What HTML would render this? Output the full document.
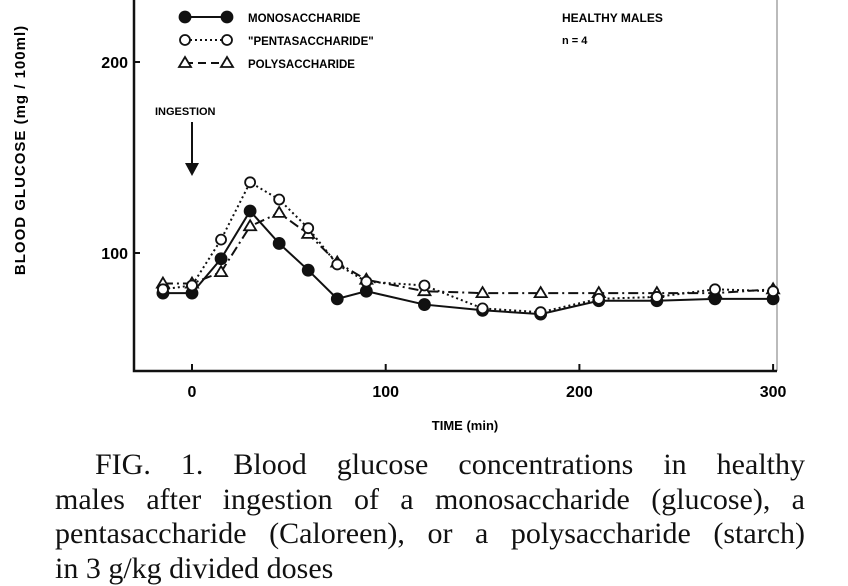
<!DOCTYPE html>
<html><head><meta charset="utf-8"><style>
body{margin:0;background:#fff;width:848px;height:565px;overflow:hidden;position:relative;font-family:"Liberation Sans",sans-serif}
#cap{position:absolute;left:55px;top:448px;width:750px;font-family:"Liberation Serif",serif;font-size:30px;line-height:34.5px;color:#111}
#cap div{text-align:justify;text-align-last:justify;white-space:nowrap}
</style></head><body>
<svg id="chart" width="848" height="450" style="position:absolute;left:0;top:0" font-family="Liberation Sans, sans-serif" font-weight="bold"></svg>
<div id="cap">
<div style="margin-left:40px">FIG. 1. Blood glucose concentrations in healthy</div>
<div>males after ingestion of a monosaccharide (glucose), a</div>
<div>pentasaccharide (Caloreen), or a polysaccharide (starch)</div>
<div style="text-align-last:left">in 3 g/kg divided doses</div>
</div>
<script>
const times=[-15,0,15,30,45,60,75,90,120,150,180,210,240,270,300];
const mono=[79,79,97,122,105,91,76,80,73,70,68,75,75,76,76];
const penta=[81,83,107,137,128,113,94,85,83,71,69,76,77,81,80];
const poly=[84,84,90,114,121,110,95,86,80,79,79,79,79,79,81];
const xTicks=[0,100,200,300];
const yTicks=[100,200];
const X=t=>192+t*1.937, Y=v=>253-(v-100)*1.91;
const s=document.getElementById('chart'),NS='http://www.w3.org/2000/svg';
function el(tag,a,p){const e=document.createElementNS(NS,tag);for(const k in a)e.setAttribute(k,a[k]);(p||s).appendChild(e);return e;}
el('line',{x1:777,y1:0,x2:777,y2:371,stroke:'#777','stroke-width':1});
let ax=el('path',{d:'M134,0V371H777',fill:'none',stroke:'#111','stroke-width':2.5});

xTicks.forEach(t=>{el('line',{x1:X(t),y1:371,x2:X(t),y2:364,stroke:'#111','stroke-width':2});
 const tx=el('text',{x:X(t),y:397,'text-anchor':'middle','font-size':16});tx.textContent=t;
 });
yTicks.forEach(v=>{el('line',{x1:134,y1:Y(v),x2:140,y2:Y(v),stroke:'#111','stroke-width':2});
 const tx=el('text',{x:128,y:Y(v)+6,'text-anchor':'end','font-size':16});tx.textContent=v;
 });
let t=el('text',{x:465,y:430,'text-anchor':'middle','font-size':13});t.textContent='TIME  (min)';

t=el('text',{x:0,y:0,transform:'translate(25,150) rotate(-90)','text-anchor':'middle','font-size':15,'letter-spacing':'1'});t.textContent='BLOOD   GLUCOSE   (mg / 100ml)';

t=el('text',{x:155,y:115,'font-size':11});t.textContent='INGESTION';

el('line',{x1:192,y1:122,x2:192,y2:165,stroke:'#111','stroke-width':2});
el('path',{d:'M185,163L199,163L192,176Z',fill:'#111'});
t=el('text',{x:562,y:22,'font-size':12});t.textContent='HEALTHY  MALES';
t=el('text',{x:562,y:44,'font-size':11});t.textContent='n = 4';
function mark(type,x,y,g){
 if(type==='tri')el('path',{d:`M${x},${y-6}L${x+6},${y+4}L${x-6},${y+4}Z`,fill:'#fff',stroke:'#111','stroke-width':1.8},g);
 else el('circle',{cx:x,cy:y,r:type==='fill'?5.5:5,fill:type==='fill'?'#111':'#fff',stroke:'#111','stroke-width':1.8},g);
}
const series=[[poly,'tri','10 4 2 4','poly'],[mono,'fill','','mono'],[penta,'open','2 3','penta']];
series.forEach(([d,type,dash,n])=>{
 const g=el('g',{});
 el('polyline',{points:times.map((tt,i)=>X(tt)+','+Y(d[i])).join(' '),fill:'none',stroke:'#111','stroke-width':2,'stroke-dasharray':dash},g);
 times.forEach((tt,i)=>{mark(type,X(tt),Y(d[i]),g);});
});
const leg=[['fill','','MONOSACCHARIDE',20],['open','2 3','"PENTASACCHARIDE"',43],['tri','8 5','POLYSACCHARIDE',66]];
leg.forEach(([type,dash,label,y])=>{
 const g=el('g',{});
 el('line',{x1:185,y1:y-3,x2:227,y2:y-3,stroke:'#111','stroke-width':2,'stroke-dasharray':dash},g);
 mark(type,185,y-3,g);mark(type,227,y-3,g);
 const tx=el('text',{x:248,y:y+2,'font-size':11.5},g);tx.textContent=label;
});
</script>
</body></html>
